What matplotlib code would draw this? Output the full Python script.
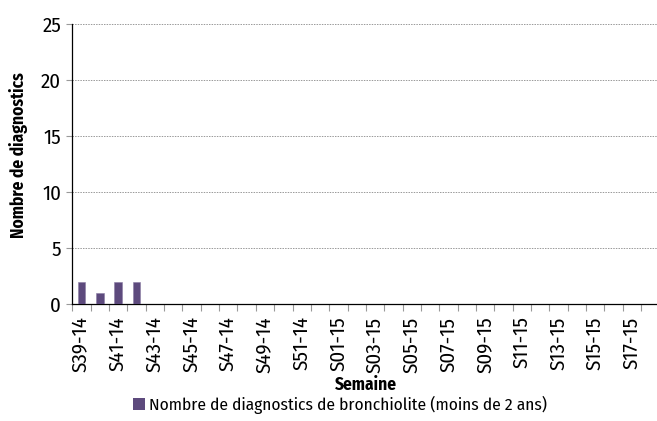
import matplotlib.pyplot as plt
import numpy as np
from matplotlib.patches import Patch

plt.rcParams['font.family'] = ['Fira Sans Condensed', 'DejaVu Sans']

# weekly data, S39-14 to S18-15
weeks = [f"S{w:02d}-14" for w in range(39, 53)] + [f"S{w:02d}-15" for w in range(1, 19)]
counts = [2, 1, 2, 2] + [0] * 28
series_name = "Nombre de diagnostics de bronchiolite (moins de 2 ans)"
bar_color = '#5d4a7d'

fig = plt.figure(figsize=(6.57, 4.21), dpi=100)
ax = fig.add_axes([72.3 / 657, 1 - 304 / 421, (659.5 - 72.3) / 657, 280 / 421])

x = np.arange(len(weeks))
ax.bar(x, counts, width=0.42, color=bar_color, edgecolor='#8a7ca3', linewidth=0.4, zorder=3)

ax.set_xlim(-0.5, len(weeks) - 0.5)
ax.set_ylim(0, 25)
ax.set_yticks(range(0, 26, 5))
ax.yaxis.grid(True, color='#999999', linestyle=(0, (1.5, 1.2)), linewidth=0.7)
ax.set_axisbelow(True)

# labels on every other week, ticks on category boundaries
ax.set_xticks(x[::2])
ax.set_xticklabels(weeks[::2], rotation=90)
ax.set_xticks(np.arange(-0.5, len(weeks)), minor=True)
ax.tick_params(axis='x', which='major', length=0, pad=9, labelsize=15)
ax.tick_params(axis='x', which='minor', length=5, color='#999999', width=0.8)
ax.tick_params(axis='y', length=4, color='#999999', width=0.8, labelsize=15, pad=4)

for s in ['top', 'right']:
    ax.spines[s].set_visible(False)
ax.spines['left'].set_color('black')
ax.spines['bottom'].set_color('black')
ax.spines['left'].set_linewidth(0.9)
ax.spines['bottom'].set_linewidth(0.9)

ax.set_ylabel('Nombre de diagnostics', fontsize=12.5, fontweight='bold')
ax.yaxis.set_label_coords(-0.075, 0.53)
ax.set_xlabel('Semaine', fontsize=12.5, fontweight='bold', labelpad=2)

handle = Patch(facecolor=bar_color, edgecolor='none')
fig.legend([handle], [series_name], loc='center', bbox_to_anchor=(340 / 657, 1 - 405 / 421),
           frameon=False, fontsize=12.5, handlelength=0.7, handleheight=0.7, handletextpad=0.2)

fig.savefig('out.png', dpi=100)
